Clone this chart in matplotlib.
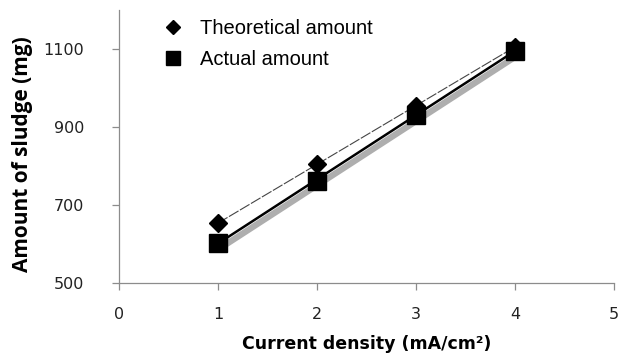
import numpy as np
import matplotlib
matplotlib.use("Agg")
import matplotlib.pyplot as plt
import matplotlib.patheffects as pe

current_density = [1, 2, 3, 4]
theoretical = [653, 805, 954, 1105]
actual = [603, 762, 931, 1095]

x_ticks = [0, 1, 2, 3, 4, 5]
y_ticks = [500, 700, 900, 1100]

fig = plt.figure(figsize=(6.21, 3.58), dpi=100)
ax = fig.add_axes([0.1916, 0.2095, 0.797, 0.763])

tick_font = "DejaVu Sans"
label_font = "Open Sans"
axis_gray = "#8c8c8c"

# linear trend lines through each series
xs = np.array(current_density, dtype=float)
fit_t = np.polyfit(xs, theoretical, 1)
fit_a = np.polyfit(xs, actual, 1)
xl = np.array([xs.min(), xs.max()])

ax.plot(xl, np.polyval(fit_t, xl), color="#444444", lw=0.8,
        dashes=(10, 1.5), zorder=2)
ax.plot(xl, np.polyval(fit_a, xl), color="black", lw=1.8, zorder=2,
        path_effects=[pe.SimpleLineShadow(offset=(2, -3), shadow_color="#9a9a9a",
                                          alpha=0.8, linewidth=4.5),
                      pe.Normal()])

ax.plot(current_density, theoretical, linestyle="none", marker="D", ms=9,
        color="black", zorder=4, label="Theoretical amount")
ax.plot(current_density, actual, linestyle="none", marker="s", ms=13,
        color="black", zorder=3, label="Actual amount")

ax.set_xlim(0, 5)
ax.set_ylim(500, 1200)
ax.set_xticks(x_ticks)
ax.set_yticks(y_ticks)
ax.set_xticklabels([str(v) for v in x_ticks], fontfamily=tick_font, fontsize=11.5, color="#222222")
ax.set_yticklabels([str(v) for v in y_ticks], fontfamily=tick_font, fontsize=11.5, color="#222222")

for s in ("top", "right"):
    ax.spines[s].set_visible(False)
for s in ("left", "bottom"):
    ax.spines[s].set_color(axis_gray)
    ax.spines[s].set_linewidth(0.9)
ax.tick_params(axis="both", direction="out", length=5, width=0.9, color=axis_gray)
ax.tick_params(axis="y", pad=20)
ax.tick_params(axis="x", pad=12)

ax.set_xlabel("Current density (mA/cm²)", fontfamily="DejaVu Sans", fontweight="bold",
              fontsize=12.5)
ax.xaxis.set_label_coords(0.5, -0.19)
ax.set_ylabel("Amount of sludge (mg)", fontfamily=label_font, fontweight="bold",
              fontsize=15)
ax.yaxis.set_label_coords(-0.174, 0.47)

leg = ax.legend(loc="upper left", bbox_to_anchor=(0.053, 1.033), frameon=False,
                prop={"family": "Liberation Sans", "size": 14.5},
                handlelength=1.0, handletextpad=0.8, labelspacing=0.62,
                markerscale=0.8)

fig.savefig("out.png", dpi=100)
